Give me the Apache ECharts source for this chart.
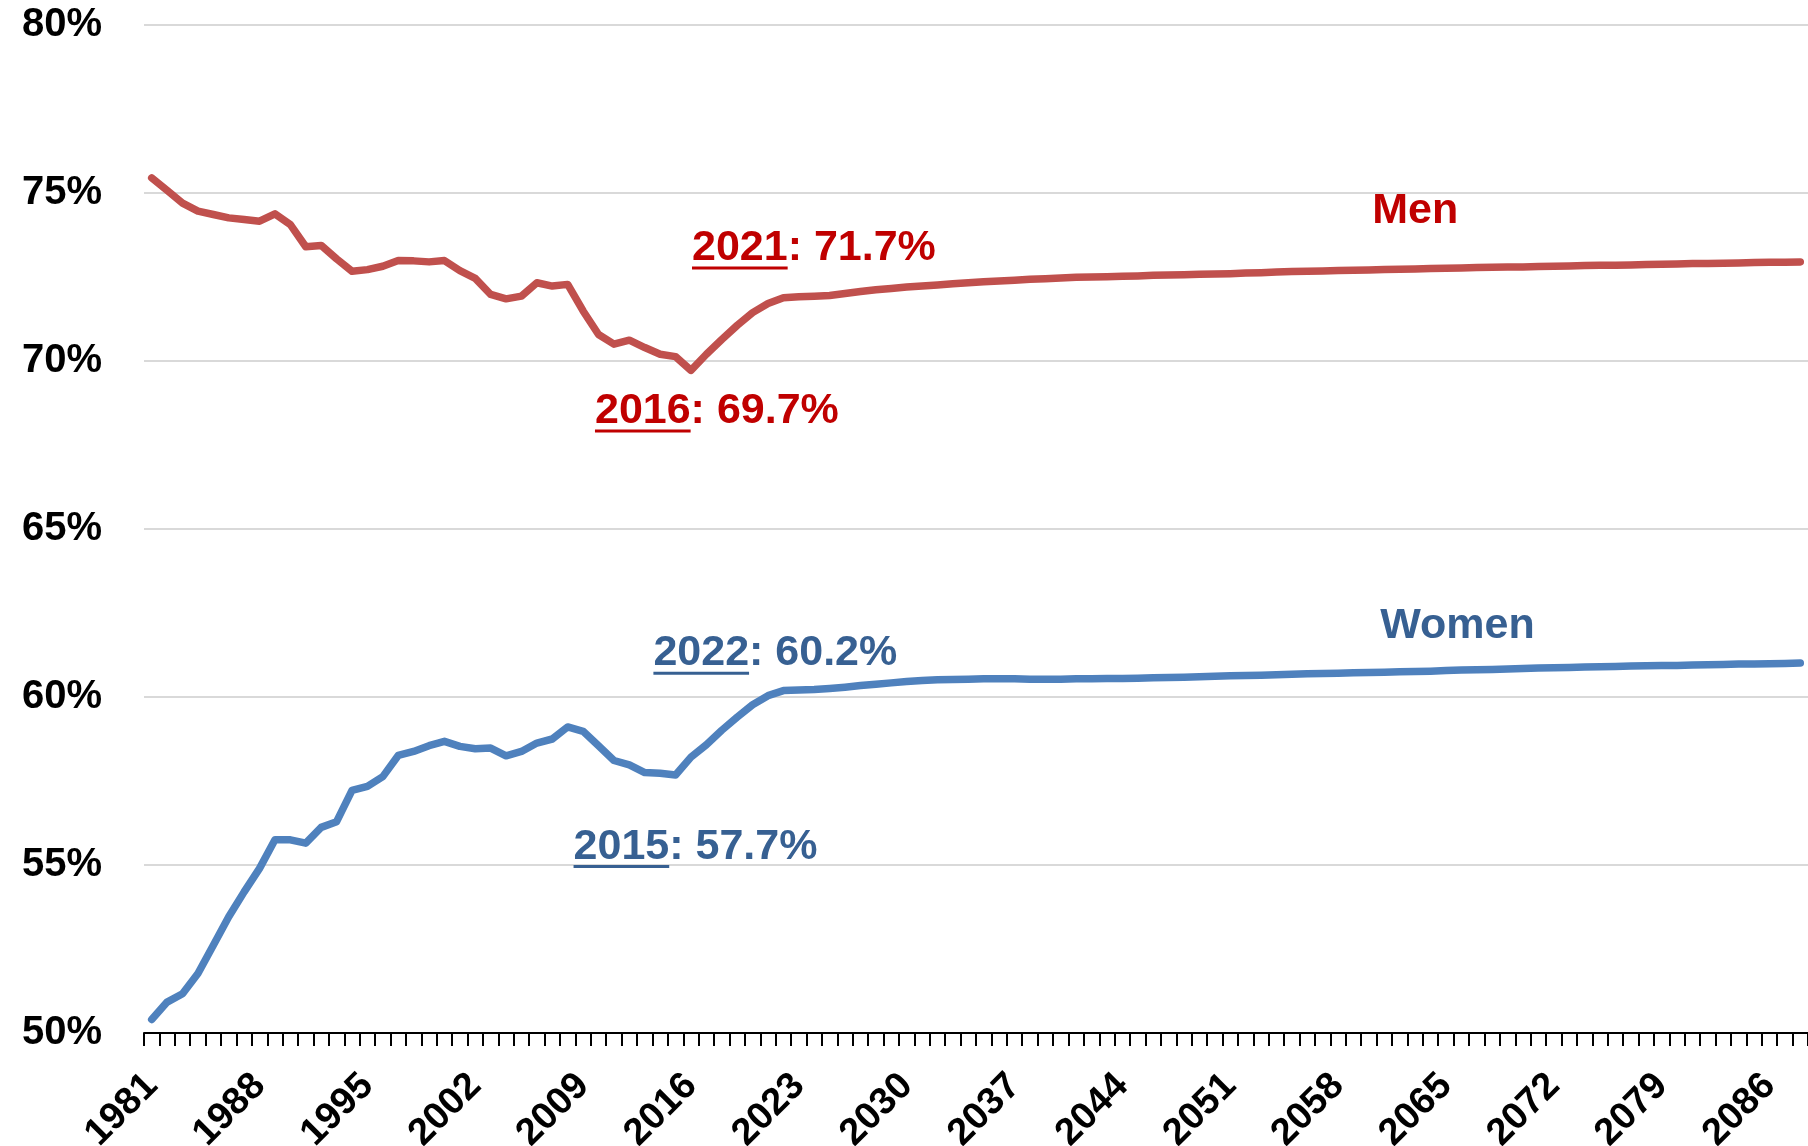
<!DOCTYPE html>
<html>
<head>
<meta charset="utf-8">
<title>Employment rate, men and women</title>
<script src="https://cdn.jsdelivr.net/npm/echarts@6/dist/echarts.min.js"></script>
<style>
  html, body { margin: 0; padding: 0; background: #fff; }
  #chart { width: 1808px; height: 1146px; }
</style>
</head>
<body>
<div id="chart"></div>
<script>
// 年份 (类目轴)
const years = [
  1981, 1982, 1983, 1984, 1985, 1986, 1987, 1988, 1989, 1990,
  1991, 1992, 1993, 1994, 1995, 1996, 1997, 1998, 1999, 2000,
  2001, 2002, 2003, 2004, 2005, 2006, 2007, 2008, 2009, 2010,
  2011, 2012, 2013, 2014, 2015, 2016, 2017, 2018, 2019, 2020,
  2021, 2022, 2023, 2024, 2025, 2026, 2027, 2028, 2029, 2030,
  2031, 2032, 2033, 2034, 2035, 2036, 2037, 2038, 2039, 2040,
  2041, 2042, 2043, 2044, 2045, 2046, 2047, 2048, 2049, 2050,
  2051, 2052, 2053, 2054, 2055, 2056, 2057, 2058, 2059, 2060,
  2061, 2062, 2063, 2064, 2065, 2066, 2067, 2068, 2069, 2070,
  2071, 2072, 2073, 2074, 2075, 2076, 2077, 2078, 2079, 2080,
  2081, 2082, 2083, 2084, 2085, 2086, 2087, 2088
]

// 男性 (%)
const men = [
  75.45, 75.08, 74.70, 74.46, 74.36, 74.26, 74.21, 74.16, 74.38, 74.06,
  73.40, 73.44, 73.04, 72.67, 72.72, 72.82, 72.99, 72.98, 72.95, 72.99,
  72.69, 72.46, 71.98, 71.85, 71.93, 72.33, 72.23, 72.28, 71.49, 70.79,
  70.50, 70.62, 70.40, 70.20, 70.13, 69.72, 70.20, 70.64, 71.06, 71.44,
  71.71, 71.88, 71.91, 71.93, 71.95, 72.01, 72.07, 72.12, 72.16, 72.20,
  72.23, 72.26, 72.30, 72.33, 72.36, 72.38, 72.40, 72.43, 72.45, 72.47,
  72.49, 72.50, 72.51, 72.52, 72.53, 72.55, 72.56, 72.57, 72.58, 72.59,
  72.60, 72.62, 72.63, 72.65, 72.66, 72.67, 72.68, 72.69, 72.70, 72.71,
  72.72, 72.73, 72.74, 72.75, 72.76, 72.77, 72.78, 72.79, 72.80, 72.80,
  72.81, 72.82, 72.83, 72.84, 72.85, 72.85, 72.86, 72.87, 72.88, 72.89,
  72.90, 72.90, 72.91, 72.92, 72.93, 72.94, 72.94, 72.95
]

// 女性 (%)
const women = [
  50.40, 50.92, 51.17, 51.77, 52.61, 53.46, 54.20, 54.90, 55.75, 55.75,
  55.65, 56.12, 56.29, 57.22, 57.34, 57.63, 58.26, 58.38, 58.55, 58.68,
  58.53, 58.46, 58.48, 58.25, 58.38, 58.63, 58.75, 59.11, 58.98, 58.55,
  58.11, 57.98, 57.75, 57.73, 57.68, 58.21, 58.58, 59.01, 59.40, 59.77,
  60.04, 60.19, 60.21, 60.22, 60.25, 60.29, 60.34, 60.38, 60.42, 60.46,
  60.49, 60.51, 60.52, 60.53, 60.54, 60.54, 60.54, 60.53, 60.53, 60.53,
  60.54, 60.54, 60.55, 60.55, 60.56, 60.57, 60.58, 60.59, 60.60, 60.62,
  60.63, 60.64, 60.65, 60.66, 60.68, 60.69, 60.70, 60.71, 60.72, 60.73,
  60.74, 60.75, 60.76, 60.77, 60.79, 60.80, 60.81, 60.82, 60.83, 60.85,
  60.86, 60.87, 60.88, 60.89, 60.90, 60.91, 60.92, 60.93, 60.94, 60.94,
  60.95, 60.96, 60.97, 60.98, 60.98, 60.99, 61.00, 61.01
]

// 标注
const noteSeries = ['Men', 'Men', 'Women', 'Women']
const noteYears = ['2021', '2016', '2022', '2015']
const noteTexts = [': 71.7%', ': 69.7%', ': 60.2%', ': 57.7%']

// 系列名称标注
const seriesNames = ['Men', 'Women']
const seriesLabelYear = '2061'

const FONT = '"Liberation Sans", Arial, Helvetica, sans-serif'
const lineColors = { Men: '#C0504D', Women: '#4F81BD' }
const textColors = { Men: '#C00000', Women: '#376092' }
const NOTE_SIZE = 43

const chart = echarts.init(document.getElementById('chart'))

chart.setOption({
  animation: false,
  backgroundColor: '#fff',
  grid: { left: 144, right: 0, top: 25, bottom: 113, containLabel: false, outerBoundsMode: 'none' },
  xAxis: {
    type: 'category',
    data: years.map(String),
    boundaryGap: true,
    axisLine: { lineStyle: { color: '#000', width: 2 } },
    axisTick: { show: true, interval: 0, length: 13, lineStyle: { color: '#000', width: 2 } },
    axisLabel: {
      interval: 6,
      rotate: 45,
      margin: 47,
      fontFamily: FONT,
      fontWeight: 'bold',
      fontSize: 38,
      color: '#000'
    },
    splitLine: { show: false }
  },
  yAxis: {
    type: 'value',
    min: 50,
    max: 80,
    interval: 5,
    axisLine: { show: false },
    axisTick: { show: false },
    axisLabel: {
      formatter: v => v + '%',
      margin: 42,
      fontFamily: FONT,
      fontWeight: 'bold',
      fontSize: 40,
      color: '#000'
    },
    splitLine: { lineStyle: { color: '#D9D9D9', width: 2 } }
  },
  series: [
    {
      name: 'Men',
      type: 'line',
      data: men,
      symbol: 'none',
      lineStyle: { color: lineColors.Men, width: 7.5, cap: 'round', join: 'round' }
    },
    {
      name: 'Women',
      type: 'line',
      data: women,
      symbol: 'none',
      lineStyle: { color: lineColors.Women, width: 7.5, cap: 'round', join: 'round' }
    }
  ]
})

// 文字宽度
const ctx = document.createElement('canvas').getContext('2d')
const textWidth = (str, size) => {
  ctx.font = 'bold ' + size + 'px ' + FONT
  return ctx.measureText(str).width
}

const pointPixel = (name, year) => {
  const idx = years.indexOf(+year)
  const data = name === 'Men' ? men : women
  return chart.convertToPixel({ xAxisIndex: 0, yAxisIndex: 0 }, [idx, data[idx]])
}

// 标注相对数据点的偏移
const noteOffsets = [[-76, -55], [-96, 41], [-130, -37], [-102, 72]]
const nameOffsets = [[-12, -58], [-4, -46]]

const elements = []
noteYears.forEach((yr, i) => {
  const p = pointPixel(noteSeries[i], yr)
  const x = p[0] + noteOffsets[i][0]
  const y = p[1] + noteOffsets[i][1]
  const color = textColors[noteSeries[i]]
  const font = 'bold ' + NOTE_SIZE + 'px ' + FONT
  const wYear = textWidth(yr, NOTE_SIZE)
  elements.push({
    type: 'text', x: x, y: y, z: 10,
    style: { text: yr, font: font, fill: color, textVerticalAlign: 'middle', verticalAlign: 'middle' }
  })
  elements.push({
    type: 'rect', z: 10,
    shape: { x: x, y: y + NOTE_SIZE * 0.35 + 3, width: wYear, height: 3 },
    style: { fill: color }
  })
  elements.push({
    type: 'text', x: x + wYear, y: y, z: 10,
    style: { text: noteTexts[i], font: font, fill: color, textVerticalAlign: 'middle', verticalAlign: 'middle' }
  })
})

seriesNames.forEach((name, i) => {
  const p = pointPixel(name, seriesLabelYear)
  elements.push({
    type: 'text', x: p[0] + nameOffsets[i][0], y: p[1] + nameOffsets[i][1], z: 10,
    style: {
      text: name,
      font: 'bold ' + NOTE_SIZE + 'px ' + FONT,
      fill: textColors[name],
      textVerticalAlign: 'middle',
      verticalAlign: 'middle'
    }
  })
})

chart.setOption({ graphic: { elements: elements } })
</script>
</body>
</html>
